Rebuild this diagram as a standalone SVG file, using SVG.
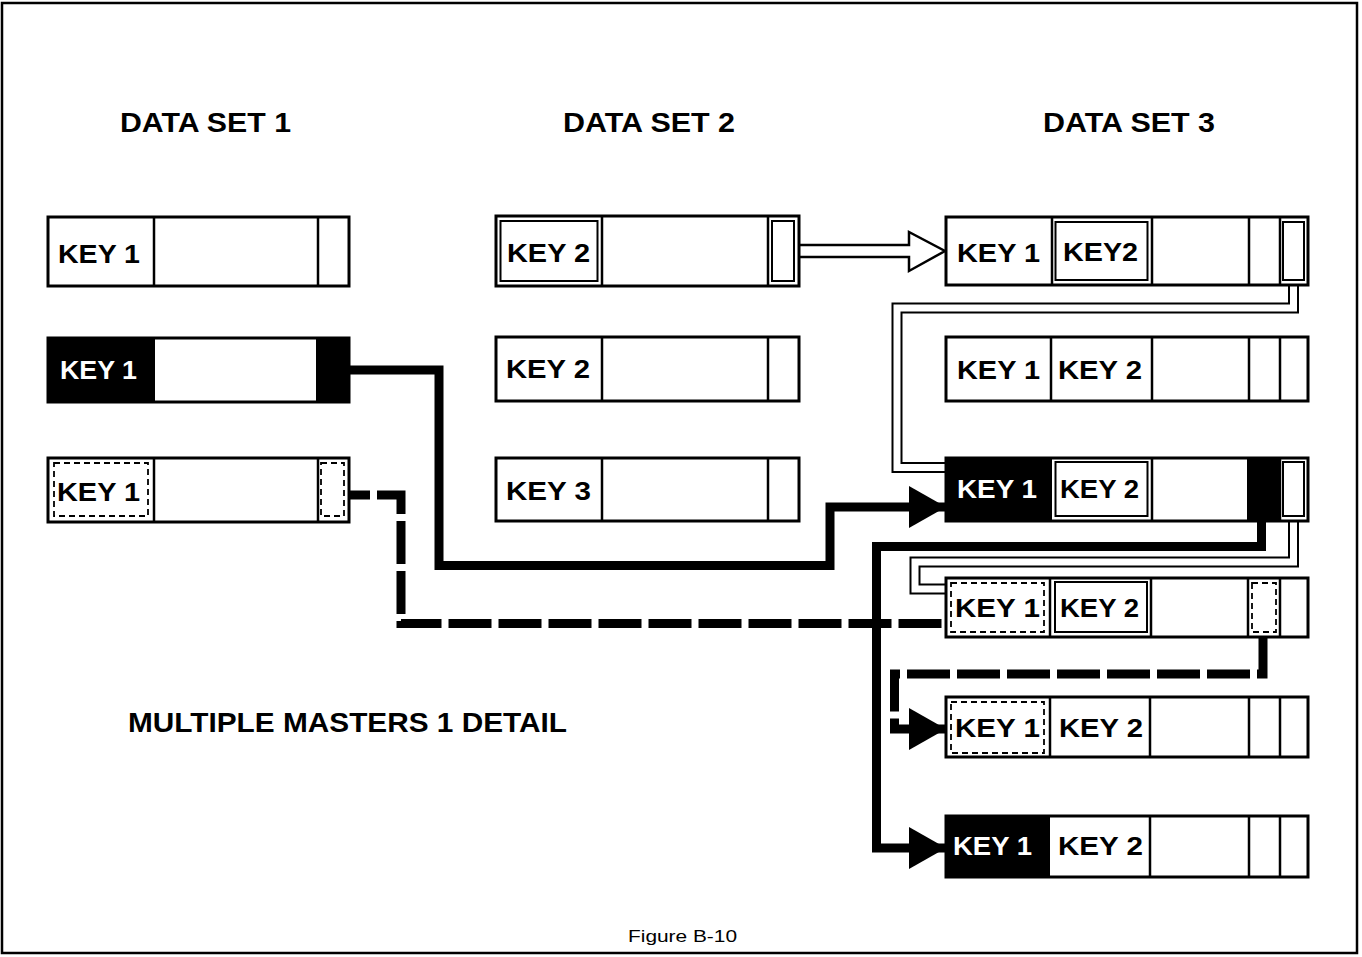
<svg xmlns="http://www.w3.org/2000/svg" width="1362" height="957" viewBox="0 0 1362 957">
<style>
.frame{fill:#fff;stroke:#000;stroke-width:2.5}
.rec{fill:#fff;stroke:#000;stroke-width:3}
.dv{stroke:#000;stroke-width:2.5}
.blk{fill:#000}
.dsh{fill:none;stroke:#000;stroke-width:1.8;stroke-dasharray:6 4}
.dbl{fill:none;stroke:#000;stroke-width:2}
.t{font-family:"Liberation Sans",Arial,sans-serif;font-weight:bold;font-size:26px;fill:#000}
.w{fill:#fff}
.ttl{font-family:"Liberation Sans",Arial,sans-serif;font-weight:bold;font-size:28px;fill:#000}
.cap{font-family:"Liberation Sans",Arial,sans-serif;font-size:17px;fill:#000}
.thick{fill:none;stroke:#000;stroke-width:9;stroke-linejoin:miter;stroke-linecap:butt}
.dash{stroke-dasharray:43 7}
.dblo{fill:none;stroke:#000;stroke-width:11;stroke-linejoin:miter}
.dbli{fill:none;stroke:#fff;stroke-width:7;stroke-linejoin:miter}
.open{fill:#fff;stroke:#000;stroke-width:2.5;stroke-linejoin:miter}
</style>
<defs>
<marker id="ah" markerUnits="userSpaceOnUse" markerWidth="37" markerHeight="42" refX="37" refY="21" orient="auto">
<path d="M0,0 L37,21 L0,42 Z" fill="#000"/>
</marker>
</defs>
<rect class="frame" x="2" y="3" width="1355" height="950"/>

<g id="titles">
<text class="ttl" x="120" y="132" textLength="171" lengthAdjust="spacingAndGlyphs">DATA SET 1</text>
<text class="ttl" x="563" y="132" textLength="172" lengthAdjust="spacingAndGlyphs">DATA SET 2</text>
<text class="ttl" x="1043" y="132" textLength="172" lengthAdjust="spacingAndGlyphs">DATA SET 3</text>
<text class="ttl" x="128" y="732" textLength="439" lengthAdjust="spacingAndGlyphs">MULTIPLE MASTERS 1 DETAIL</text>
<text class="cap" x="628" y="942" textLength="109" lengthAdjust="spacingAndGlyphs">Figure B-10</text>
</g>

<g id="connectors">
<path class="open" d="M800,245 H909 V232 L945,251 L909,271 V257 H800"/>
<path class="dblo" d="M1293.5,285 V308 H897 V467.5 H946"/>
<path class="dbli" d="M1293.5,283 V308 H897 V467.5 H947"/>
<path class="dblo" d="M1293.5,521 V562 H915 V589 H946"/>
<path class="dbli" d="M1293.5,519 V562 H915 V589 H947"/>
<path class="thick" d="M349,370 H439 V565.5 H830 V507 H946" marker-end="url(#ah)"/>
<path class="thick dash" style="stroke-dashoffset:22" d="M349,495 H401 V623.5 H946"/>
<path class="thick" d="M1261.5,521 V546.5 H876.5 V848 H946" marker-end="url(#ah)"/>
<path class="thick dash" d="M1263,637 V674 H894.5 V729 H946" marker-end="url(#ah)"/>
</g>

<g id="ds1-r1">
<rect class="rec" x="48" y="217" width="301" height="69"/>
<line class="dv" x1="154" y1="217" x2="154" y2="286"/>
<line class="dv" x1="318" y1="217" x2="318" y2="286"/>
<text class="t" x="58" y="263" textLength="82" lengthAdjust="spacingAndGlyphs">KEY 1</text>
</g>
<g id="ds1-r2">
<rect class="rec" x="48" y="338" width="301" height="64"/>
<rect class="blk" x="48" y="338" width="107" height="64"/>
<rect class="blk" x="316" y="338" width="33" height="64"/>
<text class="t w" x="60" y="379" textLength="77" lengthAdjust="spacingAndGlyphs">KEY 1</text>
</g>
<g id="ds1-r3">
<rect class="rec" x="48" y="458" width="301" height="64"/>
<line class="dv" x1="154" y1="458" x2="154" y2="522"/>
<line class="dv" x1="318" y1="458" x2="318" y2="522"/>
<rect class="dsh" x="54" y="463" width="94" height="53"/>
<rect class="dsh" x="321" y="463" width="23" height="53"/>
<text class="t" x="57" y="501" textLength="83" lengthAdjust="spacingAndGlyphs">KEY 1</text>
</g>

<g id="ds2-r1">
<rect class="rec" x="496" y="216" width="303" height="70"/>
<line class="dv" x1="602" y1="216" x2="602" y2="286"/>
<line class="dv" x1="768" y1="216" x2="768" y2="286"/>
<rect class="dbl" x="500.5" y="221" width="97" height="60"/>
<rect class="dbl" x="772" y="221" width="22" height="60"/>
<text class="t" x="507" y="262" textLength="83" lengthAdjust="spacingAndGlyphs">KEY 2</text>
</g>
<g id="ds2-r2">
<rect class="rec" x="496" y="337" width="303" height="64"/>
<line class="dv" x1="602" y1="337" x2="602" y2="401"/>
<line class="dv" x1="768" y1="337" x2="768" y2="401"/>
<text class="t" x="506" y="378" textLength="84" lengthAdjust="spacingAndGlyphs">KEY 2</text>
</g>
<g id="ds2-r3">
<rect class="rec" x="496" y="458" width="303" height="63"/>
<line class="dv" x1="602" y1="458" x2="602" y2="521"/>
<line class="dv" x1="768" y1="458" x2="768" y2="521"/>
<text class="t" x="506" y="500" textLength="85" lengthAdjust="spacingAndGlyphs">KEY 3</text>
</g>

<g id="ds3-r1">
<rect class="rec" x="946" y="217" width="362" height="68"/>
<line class="dv" x1="1052" y1="217" x2="1052" y2="285"/>
<line class="dv" x1="1152" y1="217" x2="1152" y2="285"/>
<line class="dv" x1="1249" y1="217" x2="1249" y2="285"/>
<line class="dv" x1="1280" y1="217" x2="1280" y2="285"/>
<rect class="dbl" x="1055.5" y="222" width="92" height="58"/>
<rect class="dbl" x="1283" y="222" width="21" height="58"/>
<text class="t" x="957" y="262" textLength="83" lengthAdjust="spacingAndGlyphs">KEY 1</text>
<text class="t" x="1063" y="261" textLength="75" lengthAdjust="spacingAndGlyphs">KEY2</text>
</g>
<g id="ds3-r2">
<rect class="rec" x="946" y="337" width="362" height="64"/>
<line class="dv" x1="1051" y1="337" x2="1051" y2="401"/>
<line class="dv" x1="1152" y1="337" x2="1152" y2="401"/>
<line class="dv" x1="1249" y1="337" x2="1249" y2="401"/>
<line class="dv" x1="1280" y1="337" x2="1280" y2="401"/>
<text class="t" x="957" y="379" textLength="83" lengthAdjust="spacingAndGlyphs">KEY 1</text>
<text class="t" x="1058" y="379" textLength="84" lengthAdjust="spacingAndGlyphs">KEY 2</text>
</g>
<g id="ds3-r3">
<rect class="rec" x="946" y="458" width="362" height="63"/>
<rect class="blk" x="946" y="458" width="106" height="63"/>
<rect class="blk" x="1247" y="458" width="33" height="63"/>
<line class="dv" x1="1152" y1="458" x2="1152" y2="521"/>
<line class="dv" x1="1280" y1="458" x2="1280" y2="521"/>
<rect class="dbl" x="1055.5" y="462" width="92" height="54"/>
<rect class="dbl" x="1283" y="462" width="21" height="54"/>
<text class="t w" x="957" y="498" textLength="80" lengthAdjust="spacingAndGlyphs">KEY 1</text>
<text class="t" x="1060" y="498" textLength="79" lengthAdjust="spacingAndGlyphs">KEY 2</text>
</g>
<g id="ds3-r4">
<rect class="rec" x="946" y="578" width="362" height="59"/>
<line class="dv" x1="1050" y1="578" x2="1050" y2="637"/>
<line class="dv" x1="1151" y1="578" x2="1151" y2="637"/>
<line class="dv" x1="1248" y1="578" x2="1248" y2="637"/>
<line class="dv" x1="1280" y1="578" x2="1280" y2="637"/>
<rect class="dsh" x="951" y="583" width="93" height="49"/>
<rect class="dbl" x="1055" y="582" width="92" height="50"/>
<rect class="dsh" x="1252" y="583" width="24" height="49"/>
<text class="t" x="955" y="617" textLength="85" lengthAdjust="spacingAndGlyphs">KEY 1</text>
<text class="t" x="1060" y="617" textLength="79" lengthAdjust="spacingAndGlyphs">KEY 2</text>
</g>
<g id="ds3-r5">
<rect class="rec" x="946" y="697" width="362" height="60"/>
<line class="dv" x1="1050" y1="697" x2="1050" y2="757"/>
<line class="dv" x1="1150" y1="697" x2="1150" y2="757"/>
<line class="dv" x1="1249" y1="697" x2="1249" y2="757"/>
<line class="dv" x1="1280" y1="697" x2="1280" y2="757"/>
<rect class="dsh" x="951" y="702" width="93" height="51"/>
<text class="t" x="955" y="737" textLength="85" lengthAdjust="spacingAndGlyphs">KEY 1</text>
<text class="t" x="1059" y="737" textLength="84" lengthAdjust="spacingAndGlyphs">KEY 2</text>
</g>
<g id="ds3-r6">
<rect class="rec" x="946" y="816" width="362" height="61"/>
<rect class="blk" x="946" y="816" width="104" height="61"/>
<line class="dv" x1="1150" y1="816" x2="1150" y2="877"/>
<line class="dv" x1="1249" y1="816" x2="1249" y2="877"/>
<line class="dv" x1="1280" y1="816" x2="1280" y2="877"/>
<text class="t w" x="953" y="855" textLength="79" lengthAdjust="spacingAndGlyphs">KEY 1</text>
<text class="t" x="1058" y="855" textLength="85" lengthAdjust="spacingAndGlyphs">KEY 2</text>
</g>
</svg>
